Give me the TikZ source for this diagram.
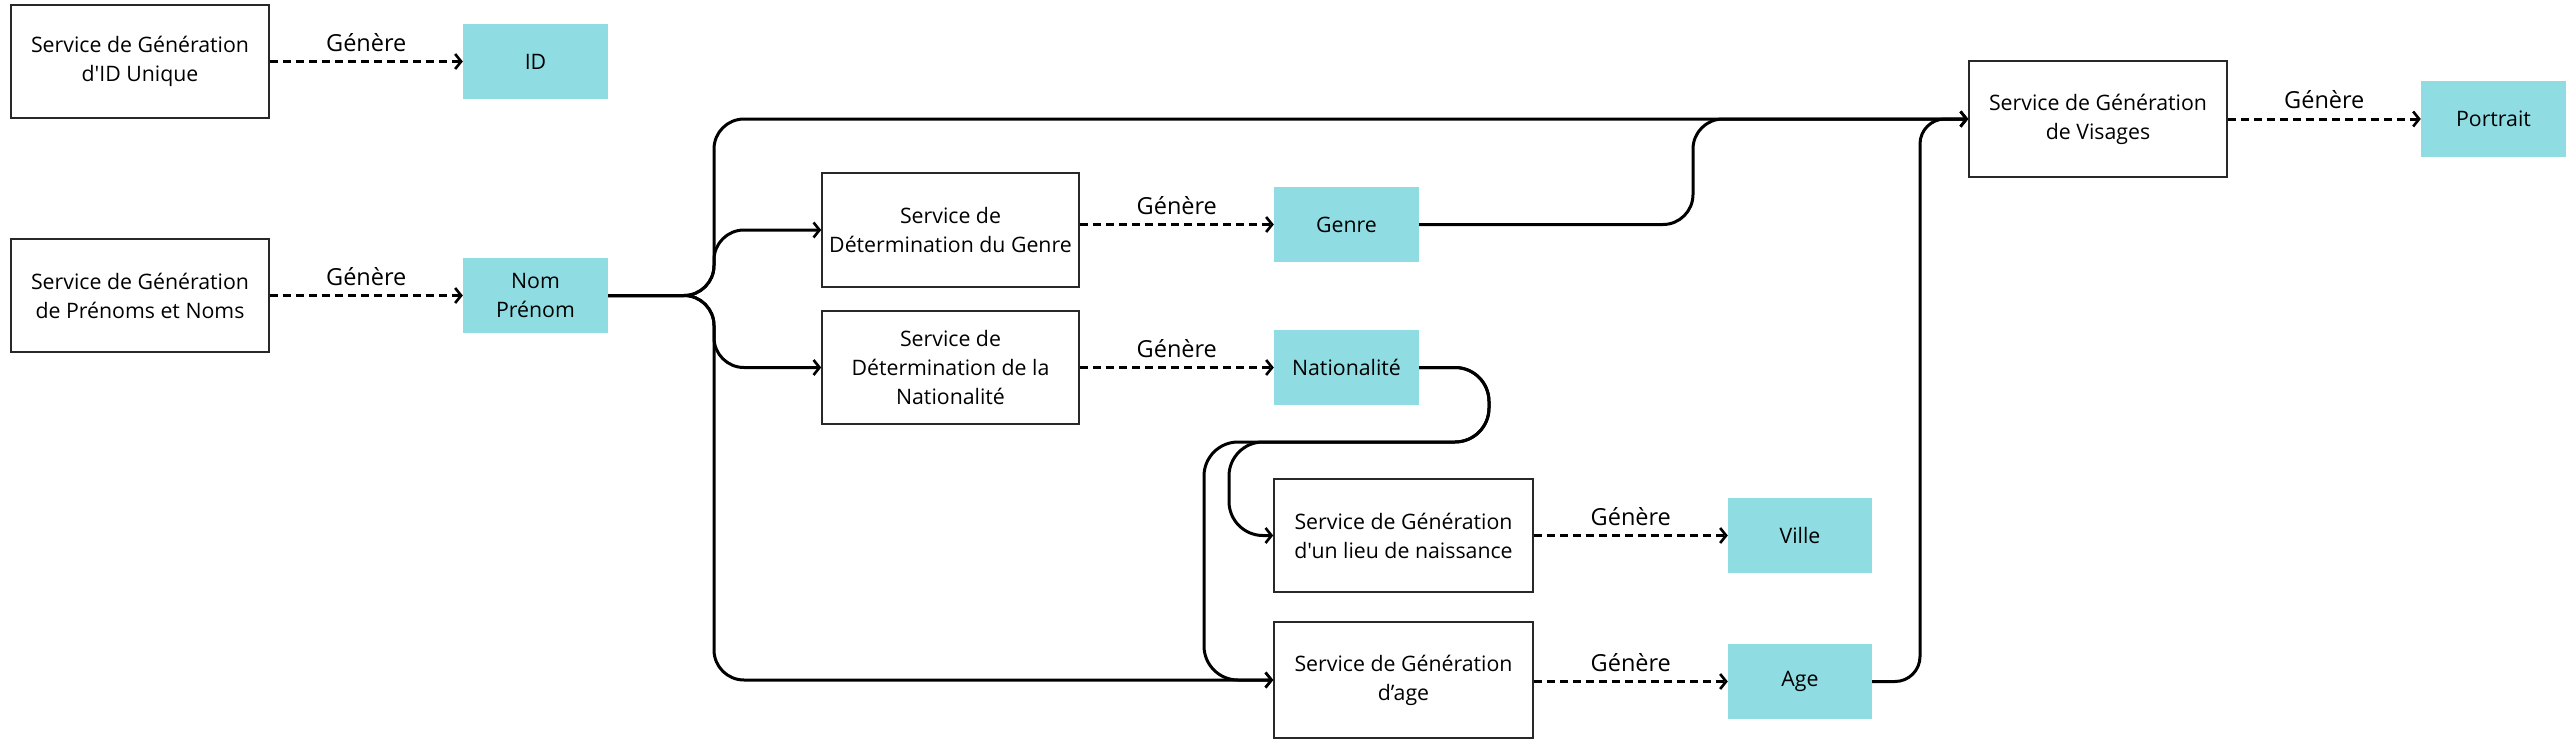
\documentclass[tikz,border=0pt]{standalone}
\usepackage{fontspec}
\setmainfont{Open Sans}[Ligatures=TeXOff]
\usetikzlibrary{arrows.meta}
\definecolor{boxcyan}{RGB}{143,221,226}
\definecolor{boxline}{RGB}{40,40,40}
\begin{document}
\begin{tikzpicture}[x=1pt,y=-1pt,
  svc/.style={draw=boxline,line width=1.6pt,fill=white,align=center,inner sep=0pt,
    font=\fontsize{21.3}{29}\selectfont},
  data/.style={fill=boxcyan,align=center,inner sep=0pt,
    font=\fontsize{21.3}{29}\selectfont},
  conn/.style={line width=3pt,rounded corners=30pt,
    -{Straight Barb[length=6pt,width=15pt,line width=2.6pt]}},
  gen/.style={line width=3pt,dash pattern=on 8pt off 5pt,
    -{Straight Barb[length=6pt,width=15pt,line width=2.6pt]}},
  lab/.style={midway,yshift=19pt,font=\fontsize{23.5}{28}\selectfont}]
\useasboundingbox (0,0) rectangle (2576,745);

\node[svc,minimum width=258pt,minimum height=113pt] (svcId) at (140,61.5) {Service de Génération\\d'ID Unique};
\node[data,minimum width=145pt,minimum height=75pt] (id) at (535.5,61.5) {ID};
\node[svc,minimum width=258pt,minimum height=113pt] (svcNom) at (140,295.5) {Service de Génération\\de Prénoms et Noms};
\node[data,minimum width=145pt,minimum height=75pt] (nom) at (535.5,295.5) {Nom\\Prénom};
\node[svc,minimum width=257pt,minimum height=114pt] (svcGenre) at (950.5,230) {Service de\\Détermination du Genre};
\node[data,minimum width=145pt,minimum height=75pt] (genre) at (1346.5,224.5) {Genre};
\node[svc,minimum width=257pt,minimum height=113pt] (svcNat) at (950.5,367.5) {Service de\\Détermination de la\\Nationalité};
\node[data,minimum width=145pt,minimum height=75pt] (nat) at (1346.5,367.5) {Nationalité};
\node[svc,minimum width=259pt,minimum height=113pt] (svcLieu) at (1403.5,535.5) {Service de Génération\\d'un lieu de naissance};
\node[data,minimum width=144pt,minimum height=75pt] (ville) at (1800,535.5) {Ville};
\node[svc,minimum width=259pt,minimum height=116pt] (svcAge) at (1403.5,680) {Service de Génération\\d’age};
\node[data,minimum width=144pt,minimum height=75pt] (age) at (1800,681.5) {Age};
\node[svc,minimum width=258pt,minimum height=116pt] (svcVis) at (2098,119) {Service de Génération\\de Visages};
\node[data,minimum width=145pt,minimum height=76pt] (portrait) at (2493.5,119) {Portrait};

% Génère arrows
\draw[gen] (svcId.east) -- (id.west) node[lab] {Génère};
\draw[gen] (svcNom.east) -- (nom.west) node[lab] {Génère};
\draw[gen] (svcGenre.east |- genre.west) -- (genre.west) node[lab] {Génère};
\draw[gen] (svcNat.east) -- (nat.west) node[lab] {Génère};
\draw[gen] (svcLieu.east) -- (ville.west) node[lab] {Génère};
\draw[gen] (svcAge.east |- age.west) -- (age.west) node[lab] {Génère};
\draw[gen] (svcVis.east) -- (portrait.west) node[lab] {Génère};

% Nom Prénom branches
\coordinate (nsplit) at (714,295.5);
\draw[conn] (nom.east) -- (nsplit) -- (nsplit |- svcVis.west) -- (svcVis.west);
\draw[conn] (nom.east) -- (nsplit) -- (nsplit |- svcGenre.west) -- (svcGenre.west);
\draw[conn] (nom.east) -- (nsplit) -- (nsplit |- svcNat.west) -- (svcNat.west);
\draw[conn] (nom.east) -- (nsplit) -- (nsplit |- svcAge.west) -- (svcAge.west);

% Genre -> Visages
\coordinate (gbend) at (1693,224.5);
\draw[conn] (genre.east) -- (gbend) -- (gbend |- svcVis.west) -- (svcVis.west);

% Age -> Visages
\coordinate (abend) at (1920,681.5);
\draw[conn,rounded corners=25pt] (age.east) -- (abend) -- (abend |- svcVis.west) -- (svcVis.west);

% Nationalité loop
\coordinate (nloop) at (1489,367.5);
\coordinate (nbot) at (1489,442);
\coordinate (lbend) at (1229,442);
\coordinate (agbend) at (1204,442);
\draw[conn,rounded corners=34pt] (nat.east) -- (nloop) -- (nbot) -- (lbend) -- (lbend |- svcLieu.west) -- (svcLieu.west);
\draw[conn,rounded corners=34pt] (nat.east) -- (nloop) -- (nbot) -- (agbend) -- (agbend |- svcAge.west) -- (svcAge.west);
\end{tikzpicture}
\end{document}
